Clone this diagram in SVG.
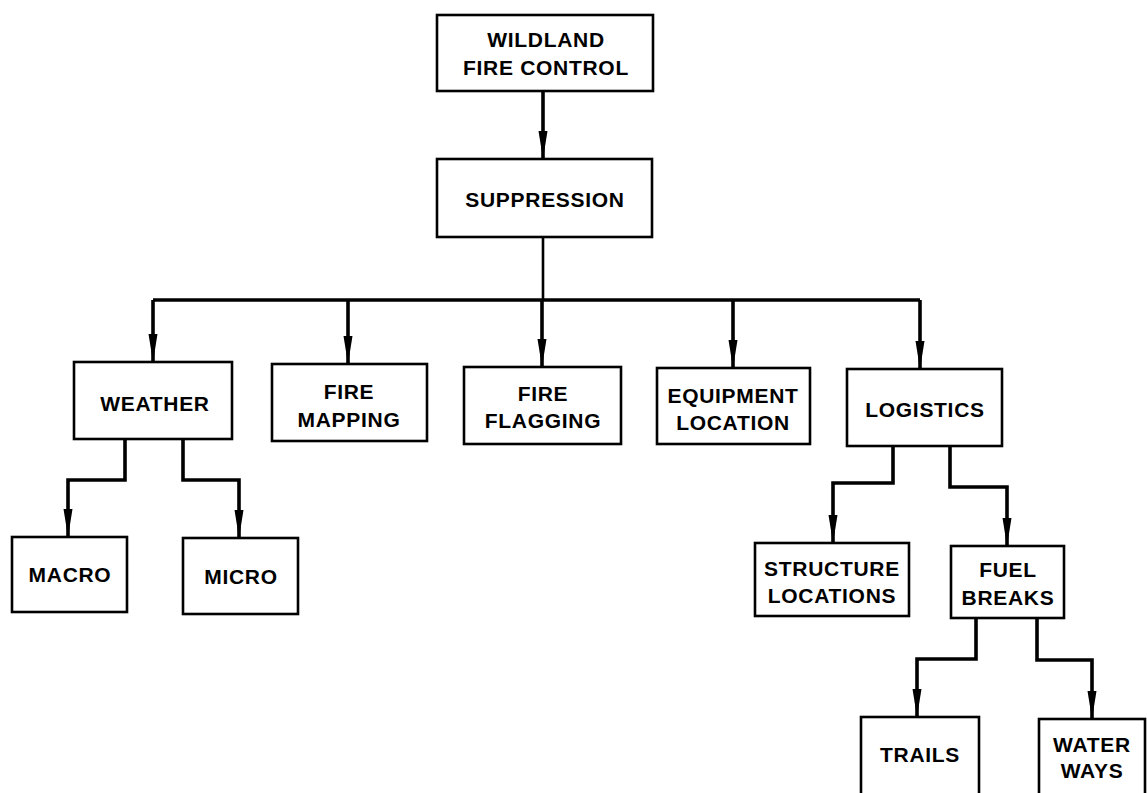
<svg xmlns="http://www.w3.org/2000/svg" width="1147" height="793" viewBox="0 0 1147 793">
<style>
.box{fill:#fff;stroke:#000;stroke-width:2.6}
.t{font-family:"Liberation Sans",Arial,Helvetica,sans-serif;font-weight:bold;font-size:21px;letter-spacing:0.7px;text-anchor:middle;fill:#000}
.c{fill:none;stroke:#000;stroke-width:3.6;stroke-linejoin:miter}
.thin{stroke-width:2.6}
</style>
<defs>
<marker id="ah" markerUnits="userSpaceOnUse" markerWidth="28" markerHeight="10" viewBox="0 0 28 10" refX="28" refY="5" orient="auto">
<path d="M0,0.5 L28,5 L0,9.5 Z" fill="#000"/>
</marker>
</defs>
<rect width="1147" height="793" fill="#fff"/>
<g id="connectors">
<path class="c" d="M543,91 V159" marker-end="url(#ah)"/>
<path class="c thin" d="M543,237 V300"/>
<path class="c" d="M153,300 H920"/>
<path class="c" d="M153,300 V362" marker-end="url(#ah)"/>
<path class="c" d="M348,300 V364" marker-end="url(#ah)"/>
<path class="c" d="M542,300 V367" marker-end="url(#ah)"/>
<path class="c" d="M733,300 V368" marker-end="url(#ah)"/>
<path class="c" d="M920,300 V369" marker-end="url(#ah)"/>
<path class="c" d="M125,439 V480 H68 V537" marker-end="url(#ah)"/>
<path class="c" d="M183,439 V480 H239 V538" marker-end="url(#ah)"/>
<path class="c" d="M893,446 V483 H833 V543" marker-end="url(#ah)"/>
<path class="c" d="M950,446 V487 H1007 V546" marker-end="url(#ah)"/>
<path class="c" d="M976,618 V659 H917 V717" marker-end="url(#ah)"/>
<path class="c" d="M1037,618 V660 H1092 V719" marker-end="url(#ah)"/>
</g>
<g id="wildland"><rect class="box" x="437" y="15" width="216" height="76"/><text class="t" x="546" y="47">WILDLAND</text><text class="t" x="546" y="75">FIRE CONTROL</text></g>
<g id="suppression"><rect class="box" x="437" y="159" width="215" height="78"/><text class="t" x="545" y="207">SUPPRESSION</text></g>
<g id="weather"><rect class="box" x="74" y="362" width="158" height="77"/><text class="t" x="155" y="411">WEATHER</text></g>
<g id="fire-mapping"><rect class="box" x="272" y="364" width="155" height="77"/><text class="t" x="349" y="399">FIRE</text><text class="t" x="349" y="427">MAPPING</text></g>
<g id="fire-flagging"><rect class="box" x="464" y="367" width="157" height="77"/><text class="t" x="543" y="401">FIRE</text><text class="t" x="543" y="428">FLAGGING</text></g>
<g id="equipment-location"><rect class="box" x="657" y="368" width="153" height="76"/><text class="t" x="733" y="403">EQUIPMENT</text><text class="t" x="733" y="430">LOCATION</text></g>
<g id="logistics"><rect class="box" x="847" y="369" width="155" height="77"/><text class="t" x="925" y="417">LOGISTICS</text></g>
<g id="macro"><rect class="box" x="12" y="537" width="115" height="75"/><text class="t" x="70" y="582">MACRO</text></g>
<g id="micro"><rect class="box" x="183" y="538" width="115" height="76"/><text class="t" x="241" y="584">MICRO</text></g>
<g id="structure-locations"><rect class="box" x="755" y="543" width="154" height="73"/><text class="t" x="832" y="576">STRUCTURE</text><text class="t" x="832" y="603">LOCATIONS</text></g>
<g id="fuel-breaks"><rect class="box" x="951" y="546" width="113" height="72"/><text class="t" x="1008" y="577">FUEL</text><text class="t" x="1008" y="605">BREAKS</text></g>
<g id="trails"><rect class="box" x="861" y="717" width="118" height="85"/><text class="t" x="920" y="762">TRAILS</text></g>
<g id="water-ways"><rect class="box" x="1039" y="719" width="106" height="85"/><text class="t" x="1092" y="752">WATER</text><text class="t" x="1092" y="778">WAYS</text></g>
</svg>
